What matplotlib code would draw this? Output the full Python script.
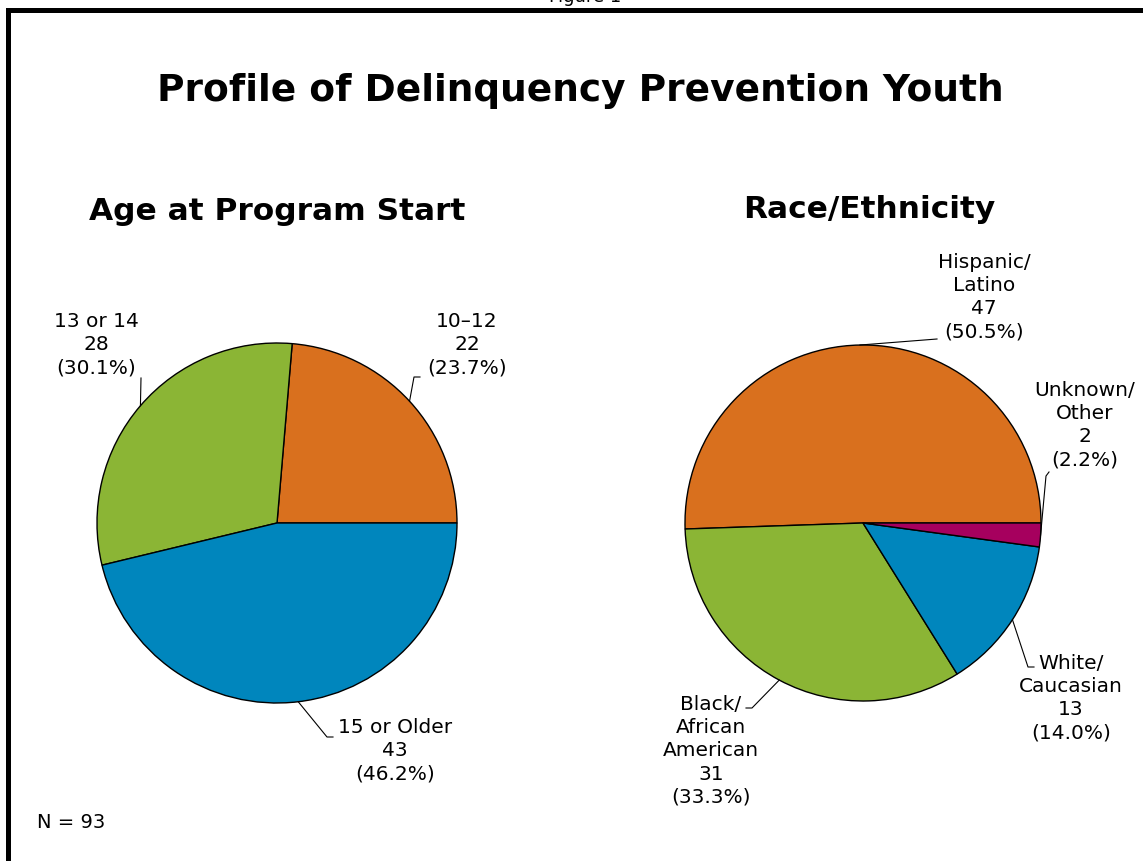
import numpy as np
import matplotlib
matplotlib.use("Agg")
import matplotlib.pyplot as plt
from matplotlib.patches import Rectangle

plt.rcParams['font.family'] = ['DejaVu Sans']

# data
age_labels = ["10\u201312", "13 or 14", "15 or Older"]
age_counts = [22, 28, 43]
age_pct = [23.7, 30.1, 46.2]

race_labels = ["Hispanic/\nLatino", "Black/\nAfrican\nAmerican", "White/\nCaucasian", "Unknown/\nOther"]
race_counts = [47, 31, 13, 2]
race_pct = [50.5, 33.3, 14.0, 2.2]

orange = "#D9701E"
green = "#8BB535"
blue = "#0086BD"
magenta = "#A6005E"
age_colors = [orange, green, blue]
race_colors = [orange, green, blue, magenta]

W, H = 1143, 861
fig = plt.figure(figsize=(W / 100, H / 100), dpi=100)
fig.patch.set_facecolor("white")

# frame around the figure
fig.patches.append(Rectangle((7.5 / W, -0.1), 1.2, 1 - 10 / H + 0.1, transform=fig.transFigure,
                             fill=False, edgecolor="black", lw=3.6, clip_on=False))
fig.text(585 / W, 1 + 3 / H, "Figure 1", ha="center", va="center", fontsize=13)

fig.text(580 / W, 1 - 91 / H, "Profile of Delinquency Prevention Youth", ha="center", va="center",
         fontsize=27, fontweight="bold")
fig.text(277 / W, 1 - 212 / H, "Age at Program Start", ha="center", va="center",
         fontsize=22.5, fontweight="bold")
fig.text(869 / W, 1 - 209 / H, "Race/Ethnicity", ha="center", va="center",
         fontsize=22.5, fontweight="bold")
fig.text(37 / W, 1 - 822 / H, "N = 93", ha="left", va="center", fontsize=14)


def make_pie(cx, cy, R, counts, colors):
    ax = fig.add_axes([(cx - R) / W, (H - cy - R) / H, 2 * R / W, 2 * R / H])
    wedges, _ = ax.pie(counts, colors=colors, startangle=0, counterclock=True, radius=1,
                       wedgeprops=dict(edgecolor="black", linewidth=1.0))
    ax.set_xlim(-1, 1)
    ax.set_ylim(-1, 1)
    ax.set_aspect("equal")
    ax.axis("off")
    return ax, wedges


def px(x, y, cx, cy, R):
    return (x - cx) / R, (cy - y) / R


def add_label(ax, wedge, text, tpos, elbow, end, cx, cy, R):
    mid = np.deg2rad((wedge.theta1 + wedge.theta2) / 2)
    p = (np.cos(mid), np.sin(mid))
    pts = [p] + [px(*q, cx, cy, R) for q in (elbow, end) if q is not None]
    xs, ys = zip(*pts)
    ax.plot(xs, ys, color="black", lw=0.8, clip_on=False)
    tx, ty = px(*tpos, cx, cy, R)
    ax.text(tx, ty, text, ha="center", va="center", fontsize=14.5, linespacing=1.28,
            clip_on=False)


# left pie: age
lcx, lcy, lR = 277, 523, 180
ax1, w1 = make_pie(lcx, lcy, lR, age_counts, age_colors)
left_layout = [
    ((467, 345), (414, 377), (420, 377)),
    ((96, 345), None, (141, 378)),
    ((395, 751), (327, 737), (333, 737)),
]
for w, lab, n, pc, (tp, el, en) in zip(w1, age_labels, age_counts, age_pct, left_layout):
    add_label(ax1, w, f"{lab}\n{n}\n({pc:.1f}%)", tp, el, en, lcx, lcy, lR)

# right pie: race/ethnicity
rcx, rcy, rR = 863, 523, 178
ax2, w2 = make_pie(rcx, rcy, rR, race_counts, race_colors)
right_layout = [
    ((984, 297), None, (937, 339)),
    ((711, 751), (752, 708), (746, 708)),
    ((1071, 698), (1028, 667), (1034, 667)),
    ((1085, 425), (1046, 476), (1049, 472)),
]
for w, lab, n, pc, (tp, el, en) in zip(w2, race_labels, race_counts, race_pct, right_layout):
    add_label(ax2, w, f"{lab}\n{n}\n({pc:.1f}%)", tp, el, en, rcx, rcy, rR)

fig.savefig("out.png", dpi=100)
